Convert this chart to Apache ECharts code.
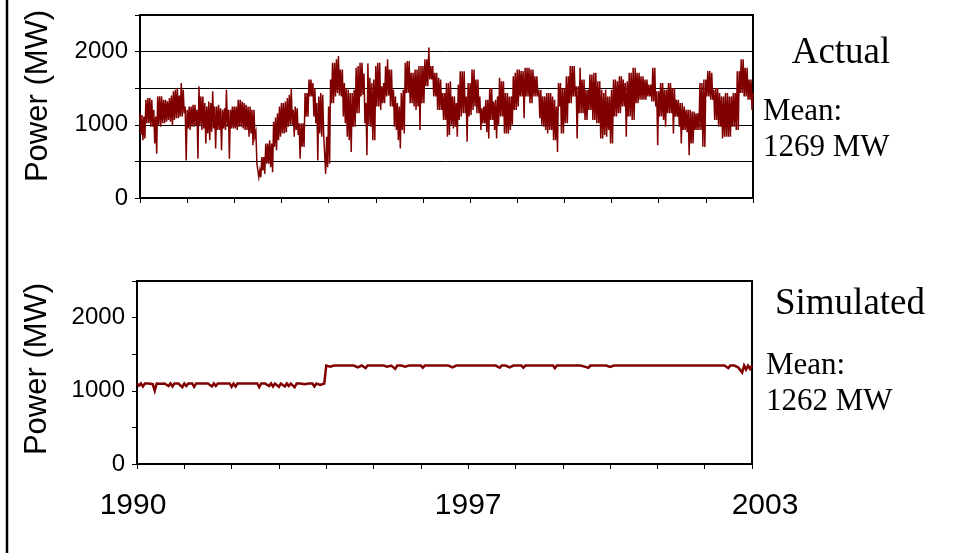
<!DOCTYPE html>
<html>
<head>
<meta charset="utf-8">
<script src="https://cdn.jsdelivr.net/npm/echarts@6/dist/echarts.min.js"></script>
<style>html,body{margin:0;padding:0;background:#fff}#c{width:954px;height:553px}</style>
</head>
<body>
<div id="c"></div>
<script>
// ---- data ----
const startYear = 1990;
const endYear = 2003;
const pointsPerYear = 24;
const yTickLabels = [0, 1000, 2000];
const xTickLabels = [1990, 1997, 2003];
const panelTitles = ['Actual', 'Simulated'];
const meanLabels = ['1269 MW', '1262 MW'];

// actual output: one band edge per sample ...
const actualValues = [
1158,790,1112,1342,1020,1365,974,744,606,1388,
974,1388,1020,1342,1066,1365,997,1457,1089,1503,
1112,1572,1158,514,1204,928,1250,974,1273,537,
1526,928,1388,744,1250,790,1296,1457,675,1250,
928,652,1204,928,1480,537,1204,951,1250,928,
1342,974,1319,928,1273,836,1250,721,1204,468,
284,376,560,330,744,468,790,353,1043,652,
1158,836,1296,882,1319,974,1411,1489,1204,
928,1227,537,1020,698,1434,1112,1618,1388,1572,
1020,514,1388,836,1411,330,836,468,1618,1296,
1848,1434,1940,1388,1756,1020,1503,790,629,1434,
974,1779,1158,1848,1411,1020,583,1839,974,1572,
790,1802,1250,1848,1296,1572,1388,1894,1250,1756,
974,1388,790,675,1434,882,1848,1434,1871,1296,
1710,1204,1756,928,1802,1296,1894,1526,2055,1618,
1802,1388,1710,1204,1618,1066,1434,836,1572,
1595,951,1388,836,1549,1112,1733,1158,767,1572,
1135,1756,1250,1618,1158,928,1227,1020,1342,813,
1503,1066,1319,813,1388,1641,1112,1595,882,1434,
928,1388,1204,1710,1250,1756,1388,1089,1779,1388,
1779,1296,1756,1388,1664,1089,1480,974,1388,882,
1434,928,1388,790,629,1250,1572,882,1503,1020,
1664,1296,1802,1388,813,1526,1779,1158,1618,1066,
1480,1204,1687,1066,1710,1020,1595,813,1434,
1480,928,1388,744,1618,1112,1595,1158,1664,1250,
836,1595,1112,1710,1066,1779,1296,1710,1342,1664,
1342,1618,1388,1549,1319,1779,721,1457,1112,1572,
974,1480,1158,1572,882,1503,1112,1342,744,1296,
928,1204,583,1204,744,1181,928,1158,928,1572,
698,1618,1388,1733,1342,1480,1066,1503,974,813,
1388,836,1434,836,1388,974,1434,928,1733,1434,
1894,1388,1779,1342,1618,1204
];
// ... and the opposite band edge at the same sample
const actualOtherEdge = [
860,1135,813,1020,1365,974,1342,1204,1112,1000,
1388,1020,1342,1043,1320,1043,1400,1066,1480,1089,
1400,1112,1480,1250,951,1250,974,1273,997,1204,
1000,1388,951,1296,882,1319,905,951,1250,928,
1273,1227,951,1227,974,1204,951,1250,951,1250,
974,1342,951,1296,928,1250,882,1204,836,900,
376,284,376,560,468,744,422,744,700,1100,
790,1250,882,1296,900,1365,1000,1000,836,
1250,860,1020,700,1020,1112,1434,1388,1618,1112,
1500,1296,882,1434,860,836,420,1250,1296,1848,
1388,1894,1400,1756,1112,1572,836,1480,1434,974,
1480,1158,1802,1388,1848,1700,1300,1000,1641,790,
1618,1250,1848,1204,1526,1296,1800,1400,1756,1250,
1480,928,1296,1250,928,1480,1434,1871,1296,1710,
1250,1756,1250,1802,1296,1802,1526,1894,1618,1802,
1388,1710,1204,1641,1204,1434,1066,1572,860,
1000,1388,974,1296,1066,1733,1158,1733,1388,1112,
1572,1204,1756,1158,1618,1388,1020,1250,900,1342,
1066,1503,928,1342,1000,1112,1595,882,1434,882,
1388,1000,1664,1204,1756,1388,1733,1733,1388,1779,
1296,1756,1388,1664,1388,1480,1000,1388,928,1434,
928,1434,790,1342,1250,1572,882,1503,1020,1664,
1296,1802,1388,1802,1526,1158,1158,1618,1066,1480,
1204,1687,1066,1710,1020,1595,813,1480,860,
836,1388,744,1480,1112,1618,1158,1664,1250,1618,
1572,1112,1710,1066,1779,1296,1710,1342,1664,1342,
1618,1388,1549,1319,1779,1250,1457,1112,1572,1066,
1480,1158,1572,1158,1503,1112,1342,974,1296,928,
1250,900,1204,744,1181,928,1158,928,1572,700,
1618,1388,1733,1342,1710,1066,1503,974,1434,1388,
836,1434,836,1388,974,1434,928,1733,1434,1894,
1388,1779,1342,1618,1204,1434
];

const simulatedValues = [
1100,1070,1100,1060,1100,1075,1100,1100,1090,1000,
1100,1100,1095,1070,1100,1100,1065,1100,1060,1100,
1100,1100,1100,1050,1100,1065,1100,1100,1100,1055,
1100,1100,1100,1100,1100,1090,1100,1100,1060,1100,
1065,1100,1100,1100,1100,1100,1090,1100,1055,1100,
1060,1100,1100,1100,1100,1100,1100,1100,1100,1100,
1100,1100,1050,1100,1100,1100,1100,1065,1100,1060,
1100,1100,1055,1100,1100,1060,1100,1065,1100,1100,
1050,1100,1100,1100,1100,1090,1100,1100,1100,1100,
1060,1100,1100,1080,1070,1100,
1345,1345,1330,1320,1345,1345,1345,1325,1345,1345,
1345,1345,1345,1345,1345,1345,1320,1345,1345,1330,
1310,1345,1345,1345,1325,1345,1320,1345,1345,1345,
1345,1330,1345,1345,1345,1300,1345,1345,1345,1345,
1330,1320,1345,1345,1345,1345,1345,1345,1345,1315,
1345,1345,1345,1345,1345,1325,1345,1345,1345,1345,
1345,1345,1345,1345,1320,1345,1345,1345,1345,1345,
1345,1345,1345,1345,1345,1370,1345,1330,1345,1345,
1345,1345,1345,1325,1345,1345,1345,1345,1315,1345,
1330,1345,1345,1320,1345,1345,1330,1345,1345,1345,
1315,1345,1345,1345,1325,1345,1345,1345,1320,1345,
1345,1345,1330,1345,1345,1345,1310,1345,1345,1345,
1345,1345,1345,1345,1345,1345,1345,1345,1345,1345,
1345,1330,1345,1315,1345,1345,1345,1320,1345,1345,
1345,1345,1345,1345,1325,1345,1345,1345,1345,1345,
1345,1345,1345,1345,1345,1345,1345,1345,1345,1345,
1345,1345,1345,1330,1345,1345,1345,1345,1345,1345,
1345,1345,1345,1345,1345,1345,1345,1345,1345,1345,
1345,1345,1345,1345,1345,1345,1345,1345,1345,1345,
1345,1345,1345,1345,1345,1320,1345,1345,1345,1345,
1345,1335,1345,1345,1310,1345,1345,1345,1345,1320,
1345,1250,1345,1290,1345,1300,1345
];

// ---- build chart ----
const step = 1 / pointsPerYear;
const toPairs = arr => arr.map((v, i) => [startYear + i * step, v]);
// each sample drawn as its upper then lower band edge (half a step apart)
const bandPairs = (a, b) => {
  const out = [];
  a.forEach((v, i) => {
    const hi = Math.max(v, b[i]), lo = Math.min(v, b[i]);
    out.push([startYear + i * step, hi]);
    if (i < a.length - 1) out.push([startYear + (i + 0.5) * step, lo]);
  });
  return out;
};
const RED = '#800000';
const SANS = 'Arial, "Liberation Sans", sans-serif';
const SERIF = '"Times New Roman", "Liberation Serif", serif';
const xLab = { fontFamily: SANS, fontSize: 30, color: '#000' };

function xAxis(gridIndex, showLabels) {
  return {
    type: 'value', gridIndex, min: startYear, max: endYear, interval: 1,
    axisLine: { show: false },
    axisTick: { show: true, length: 5, lineStyle: { color: '#000', width: 1 } },
    splitLine: { show: false },
    axisLabel: {
      show: showLabels, margin: 27, fontFamily: SANS, fontSize: 30, color: '#000',
      formatter: v => {
        if (!xTickLabels.includes(v)) return '';
        if (v === xTickLabels[0]) return '{a|' + v + '}';
        if (v === xTickLabels[xTickLabels.length - 1]) return '{b|' + v + '}';
        return '{c|' + v + '}';
      },
      rich: {
        a: Object.assign({ padding: [0, 8, 0, 0] }, xLab),
        b: Object.assign({ padding: [0, 0, 0, 26] }, xLab),
        c: Object.assign({}, xLab)
      }
    }
  };
}
function yAxis(gridIndex, grid) {
  return {
    type: 'value', gridIndex, min: 0, max: 2500, interval: 500,
    axisLine: { show: false },
    axisTick: { show: true, length: 5, lineStyle: { color: '#000', width: 1 } },
    splitLine: { show: grid, lineStyle: { color: '#000', width: 1 } },
    axisLabel: {
      margin: 12, fontFamily: SANS, fontSize: 24, color: '#000',
      formatter: v => yTickLabels.includes(v) ? String(v) : ''
    }
  };
}
const gridBase = { show: true, borderColor: '#000', borderWidth: 2, backgroundColor: 'transparent', containLabel: false };

const option = {
  animation: false,
  backgroundColor: '#fff',
  grid: [
    Object.assign({ left: 140, top: 15, width: 613, height: 183 }, gridBase),
    Object.assign({ left: 137, top: 281, width: 615, height: 183 }, gridBase)
  ],
  xAxis: [xAxis(0, false), xAxis(1, true)],
  yAxis: [yAxis(0, true), yAxis(1, false)],
  series: [
    { type: 'line', xAxisIndex: 0, yAxisIndex: 0, data: bandPairs(actualValues, actualOtherEdge),
      showSymbol: false, symbol: 'none', sampling: null,
      lineStyle: { color: RED, width: 1.5, join: 'miter' }, z: 3 },
    { type: 'line', xAxisIndex: 1, yAxisIndex: 1, data: toPairs(simulatedValues), showSymbol: false, symbol: 'none',
      lineStyle: { color: RED, width: 2.5, join: 'miter' }, z: 3 }
  ],
  graphic: [
    { type: 'line', shape: { x1: 7, y1: 0, x2: 7, y2: 553 }, style: { stroke: '#000', lineWidth: 2.5 } },
    { type: 'text', x: 38, y: 96, rotation: Math.PI / 2,
      style: { text: 'Power (MW)', font: '31px ' + SANS, fill: '#000', textAlign: 'center', textVerticalAlign: 'middle' } },
    { type: 'text', x: 37, y: 369, rotation: Math.PI / 2,
      style: { text: 'Power (MW)', font: '31px ' + SANS, fill: '#000', textAlign: 'center', textVerticalAlign: 'middle' } },
    { type: 'text', x: 841, y: 53,
      style: { text: panelTitles[0], font: '37px ' + SERIF, fill: '#000', textAlign: 'center', textVerticalAlign: 'middle' } },
    { type: 'text', x: 763, y: 112,
      style: { text: 'Mean:', font: '31px ' + SERIF, fill: '#000', textAlign: 'left', textVerticalAlign: 'middle' } },
    { type: 'text', x: 763, y: 148,
      style: { text: meanLabels[0], font: '31px ' + SERIF, fill: '#000', textAlign: 'left', textVerticalAlign: 'middle' } },
    { type: 'text', x: 850, y: 304,
      style: { text: panelTitles[1], font: '37px ' + SERIF, fill: '#000', textAlign: 'center', textVerticalAlign: 'middle' } },
    { type: 'text', x: 766, y: 366,
      style: { text: 'Mean:', font: '31px ' + SERIF, fill: '#000', textAlign: 'left', textVerticalAlign: 'middle' } },
    { type: 'text', x: 766, y: 402,
      style: { text: meanLabels[1], font: '31px ' + SERIF, fill: '#000', textAlign: 'left', textVerticalAlign: 'middle' } }
  ]
};
const chart = echarts.init(document.getElementById('c'), null, { renderer: 'canvas' });
chart.setOption(option);
</script>
</body>
</html>
